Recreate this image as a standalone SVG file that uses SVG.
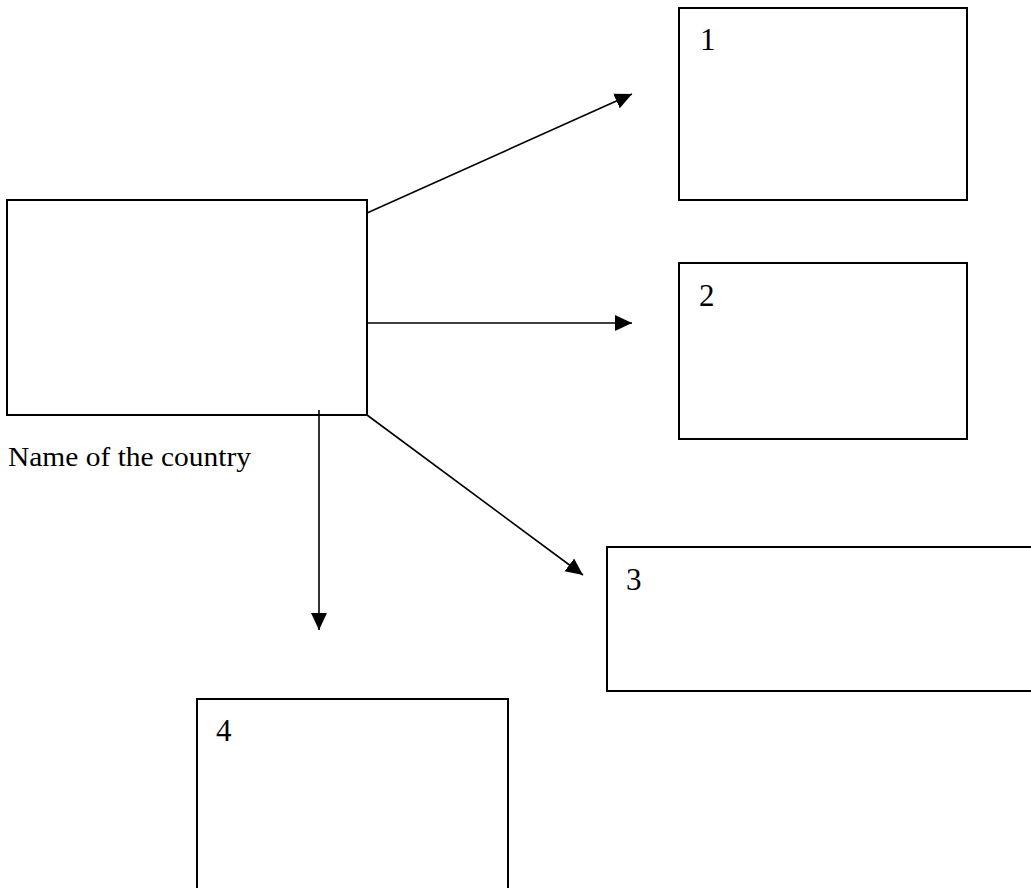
<svg xmlns="http://www.w3.org/2000/svg" width="1031" height="888" viewBox="0 0 1031 888">
<style>
.box{fill:#fff;stroke:#000;stroke-width:2}
.lbl{font-family:"Liberation Serif","Times New Roman",serif;font-size:31px;fill:#000}
.cap{font-family:"Liberation Serif","Times New Roman",serif;font-size:27px;fill:#000}
.con{stroke:#000;stroke-width:1.6;fill:none;marker-end:url(#ah)}
</style>
<defs>
<marker id="ah" markerUnits="userSpaceOnUse" markerWidth="18" markerHeight="18" refX="17" refY="9" orient="auto">
<path d="M0,1 L17,9 L0,17 Z" fill="#000"/>
</marker>
</defs>
<rect width="1031" height="888" fill="#fff"/>
<g id="main">
<rect class="box" x="7" y="200" width="360" height="215"/>
<text class="cap" x="8" y="466" textLength="243" lengthAdjust="spacingAndGlyphs">Name of the country</text>
</g>
<g id="n1">
<rect class="box" x="679" y="8" width="288" height="192"/>
<text class="lbl" x="700" y="50">1</text>
</g>
<g id="n2">
<rect class="box" x="679" y="263" width="288" height="176"/>
<text class="lbl" x="699" y="306">2</text>
</g>
<g id="n3">
<rect class="box" x="607" y="547" width="440" height="144"/>
<text class="lbl" x="626" y="590">3</text>
</g>
<g id="n4">
<rect class="box" x="197" y="699" width="311" height="220"/>
<text class="lbl" x="216" y="741">4</text>
</g>
<g id="connectors">
<line class="con" x1="367" y1="213" x2="632" y2="94"/>
<line class="con" x1="367" y1="323" x2="632" y2="323"/>
<line class="con" x1="367" y1="415" x2="583" y2="575"/>
<line class="con" x1="319" y1="410" x2="319" y2="630"/>
</g>
</svg>
